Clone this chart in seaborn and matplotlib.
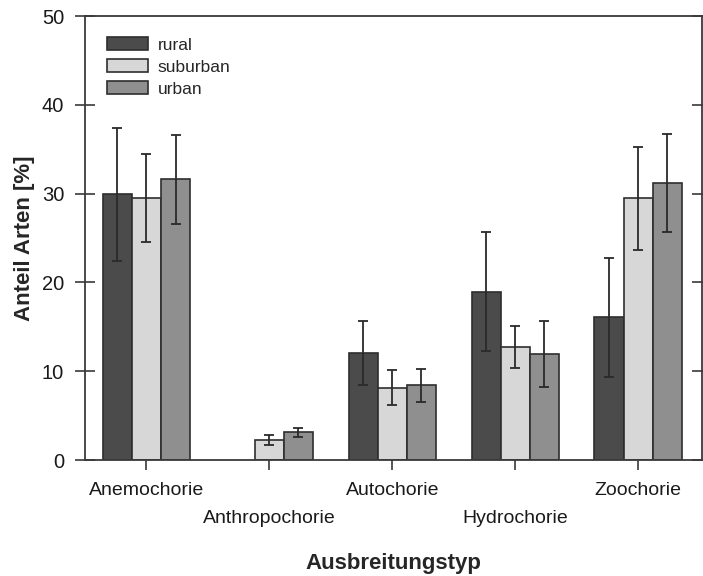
import numpy as np
import pandas as pd
import matplotlib
matplotlib.use("Agg")
import matplotlib.pyplot as plt
import seaborn as sns

# Ausbreitungstypen und Anteile (Mittelwert und Fehler) je Siedlungszone
types = ["Anemochorie", "Anthropochorie", "Autochorie", "Hydrochorie", "Zoochorie"]
zones = ["rural", "suburban", "urban"]

rural = [29.9, np.nan, 12.1, 18.95, 16.1]
suburban = [29.5, 2.25, 8.15, 12.7, 29.5]
urban = [31.6, 3.1, 8.4, 11.9, 31.2]

rural_err = [7.5, np.nan, 3.6, 6.7, 6.7]
suburban_err = [5.0, 0.6, 2.0, 2.35, 5.8]
urban_err = [5.0, 0.55, 1.85, 3.7, 5.5]

yticks = [0, 10, 20, 30, 40, 50]

means = {"rural": rural, "suburban": suburban, "urban": urban}
errs = {"rural": rural_err, "suburban": suburban_err, "urban": urban_err}

df = pd.DataFrame(
    [(t, z, means[z][i]) for z in zones for i, t in enumerate(types)],
    columns=["typ", "zone", "anteil"],
)

sns.set_style("white")
plt.rcParams["font.family"] = ["Liberation Sans", "DejaVu Sans"]

fig = plt.figure(figsize=(7.03, 5.76), dpi=100)
ax = fig.add_axes([85 / 703, 1 - 460 / 576, 617 / 703, 444 / 576])

palette = {"rural": "#4b4b4b", "suburban": "#d7d7d7", "urban": "#8f8f8f"}
sns.barplot(
    data=df, x="typ", y="anteil", hue="zone", order=types, hue_order=zones,
    palette=palette, errorbar=None, width=0.71, edgecolor="#2e2e2e",
    linewidth=1.2, saturation=1, ax=ax,
)

# Fehlerbalken an den Balkenmitten (Kategorie über die Balkenposition)
for cont, z in zip(ax.containers, zones):
    xs, ys, es = [], [], []
    for p in cont.patches:
        xc = p.get_x() + p.get_width() / 2
        i = int(round(xc))
        xs.append(xc)
        ys.append(means[z][i])
        es.append(errs[z][i])
    ax.errorbar(xs, ys, yerr=es, fmt="none", ecolor="#2a2a2a",
                elinewidth=1.3, capsize=3.6, capthick=1.3, zorder=5)

ax.set_xlim(-0.5, 4.52)
ax.set_ylim(0, 50)
ax.set_yticks(yticks)
ax.set_yticklabels([str(v) for v in yticks])

for s in ax.spines.values():
    s.set_visible(True)
    s.set_color("#3a3a3a")
    s.set_linewidth(1.3)

ax.tick_params(axis="y", direction="inout", length=14, width=1.2, color="#3a3a3a",
               pad=8, labelsize=14.5, left=True, right=True, labelcolor="#1a1a1a")
ax.tick_params(axis="x", direction="out", length=7, width=1.2, color="#3a3a3a",
               pad=9, labelsize=14, bottom=True, labelcolor="#1a1a1a")

# jede zweite Kategorie tiefer setzen
for i, tick in enumerate(ax.xaxis.get_major_ticks()):
    if i % 2 == 1:
        tick.set_pad(9 + 20)

ax.set_xlabel("Ausbreitungstyp", fontsize=16, fontweight="bold", labelpad=19)
ax.set_ylabel("Anteil Arten [%]", fontsize=16, fontweight="bold", labelpad=5)

leg = ax.legend(loc="upper left", bbox_to_anchor=(0.025, 0.968), frameon=False,
                fontsize=12.5, handlelength=2.35, handleheight=0.75,
                labelspacing=0.38, handletextpad=0.55, borderaxespad=0)
for h in leg.legend_handles:
    h.set_edgecolor("#2e2e2e")
    h.set_linewidth(1.2)

fig.savefig("out.png", dpi=100)
